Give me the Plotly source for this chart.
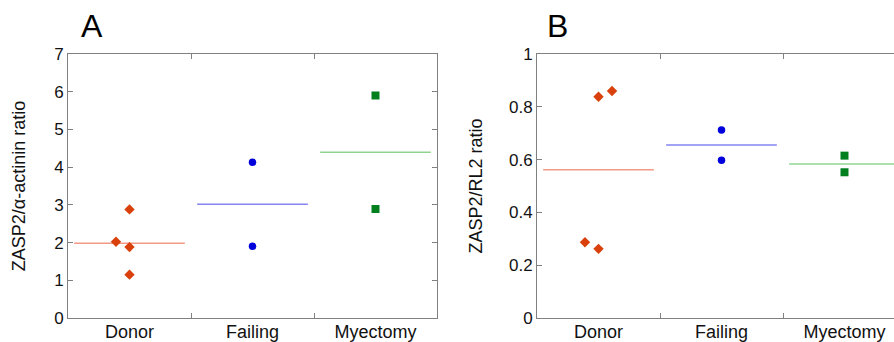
import numpy as np
import plotly.graph_objects as go

categories = ["Donor", "Failing", "Myectomy"]

# Panel A: ZASP2 / alpha-actinin ratio
a_donor = [2.88, 2.02, 1.88, 1.15]
a_donor_jitter = [0.0, -0.11, 0.0, 0.0]
a_failing = [4.13, 1.90]
a_myectomy = [5.90, 2.89]

# Panel B: ZASP2 / RL2 ratio
b_donor = [0.838, 0.860, 0.287, 0.262]
b_donor_jitter = [0.0, 0.11, -0.11, 0.0]
b_failing = [0.712, 0.598]
b_myectomy = [0.615, 0.552]

a_ticks = [0, 1, 2, 3, 4, 5, 6, 7]
b_ticks = [0, 0.2, 0.4, 0.6, 0.8, 1]

marker_colors = ["#D9400B", "#0000DD", "#007F1E"]
line_colors = ["#F29A86", "#8585F2", "#8FD48F"]
symbols = ["diamond", "circle", "square"]
marker_sizes = [8, 7.5, 8]
HALF = 0.45
FONT = "Liberation Sans, Arial, sans-serif"

fig = go.Figure()


def add_panel(groups, jitters, xa, ya):
    for i, vals in enumerate(groups):
        pos = i + 1
        jit = jitters[i] if jitters[i] is not None else [0.0] * len(vals)
        xs = [pos + j for j in jit]
        m = float(np.mean(vals))
        fig.add_trace(go.Scatter(
            x=[pos - HALF, pos + HALF], y=[m, m], mode="lines",
            line=dict(color=line_colors[i], width=1.5),
            xaxis=xa, yaxis=ya, showlegend=False, hoverinfo="skip"))
        fig.add_trace(go.Scatter(
            x=xs, y=vals, mode="markers",
            marker=dict(symbol=symbols[i], size=marker_sizes[i],
                        color=marker_colors[i], line=dict(width=0)),
            xaxis=xa, yaxis=ya, showlegend=False))


add_panel([a_donor, a_failing, a_myectomy], [a_donor_jitter, None, None], "x", "y")
add_panel([b_donor, b_failing, b_myectomy], [b_donor_jitter, None, None], "x2", "y2")

W, H = 894, 342
cat_w = 123.0
a_left, a_right = 68, 437
b_left = 537
plot_top, plot_bot = 54, 318
ydom = [(H - plot_bot) / H, (H - plot_top) / H]

axis_col = "#808080"
tickfont = dict(family=FONT, size=17, color="#111")

xcommon = dict(
    tickvals=[1, 2, 3], ticktext=categories, ticks="", showgrid=False,
    zeroline=False, showline=True, linecolor=axis_col, linewidth=1,
    mirror="ticks", automargin=False, ticklabelstandoff=-3,
    tickfont=dict(family=FONT, size=18, color="#111"),
    minor=dict(tickvals=[1.5, 2.5], ticks="inside", ticklen=5,
               tickcolor=axis_col, showgrid=False),
)
ycommon = dict(
    ticks="inside", ticklen=5, tickcolor=axis_col, showgrid=False,
    zeroline=False, showline=True, linecolor=axis_col, linewidth=1,
    automargin=False, tickfont=tickfont,
)

fig.update_layout(
    width=W, height=H, margin=dict(l=0, r=0, t=0, b=0),
    paper_bgcolor="white", plot_bgcolor="white",
    xaxis=dict(domain=[a_left / W, a_right / W], range=[0.5, 3.5], **xcommon),
    yaxis=dict(domain=ydom, range=[0, 7], tickvals=a_ticks, mirror="ticks",
               title=dict(text="ZASP2/α-actinin ratio", standoff=23,
                          font=dict(family=FONT, size=18, color="#111")),
               **ycommon),
    xaxis2=dict(domain=[b_left / W, 1.0],
                range=[0.5, 0.5 + (W - b_left) / cat_w], anchor="y2", **xcommon),
    yaxis2=dict(domain=ydom, range=[0, 1], tickvals=b_ticks, anchor="x2",
                mirror=False,
                title=dict(text="ZASP2/RL2 ratio", standoff=21,
                           font=dict(family=FONT, size=18, color="#111")),
                **ycommon),
    annotations=[
        dict(text="A", x=79 / W, y=1 - 26 / H, xref="paper", yref="paper",
             xanchor="left", yanchor="middle", showarrow=False,
             font=dict(family=FONT, size=32, color="black")),
        dict(text="B", x=545 / W, y=1 - 26 / H, xref="paper", yref="paper",
             xanchor="left", yanchor="middle", showarrow=False,
             font=dict(family=FONT, size=32, color="black")),
    ],
)

fig.write_html("out.html",
               config={"displayModeBar": False},
               post_script="document.body.style.margin='0';"
                           "document.body.style.overflow='hidden';")
